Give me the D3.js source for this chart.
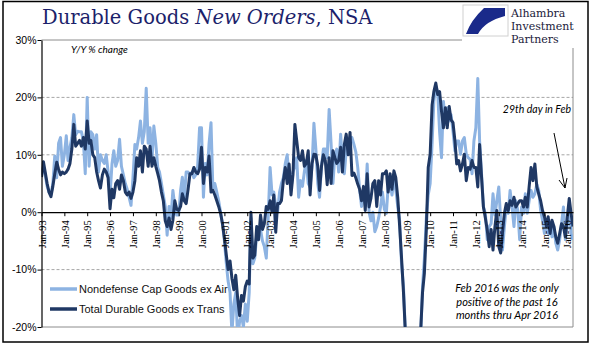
<!DOCTYPE html>
<html>
<head>
<meta charset="utf-8">
<script src="https://cdn.jsdelivr.net/npm/d3@7"></script>
<style>
  body { margin: 0; background: #fff; }
  svg { display: block; }
</style>
</head>
<body>
<script>
// Y/Y % change, monthly, Jan 1993 .. Apr 2016 (one row per year)
const nondefenseCapExAir = [
  6.5, 8, 6.5, 4.5, 3.5, 3, 5, 9.8, 6, 12, 13, 8,
  10, 13.3, 9, 11.3, 13, 17, 13.5, 14.1, 14, 14, 12.4, 6.7,
  20, 8, 14, 13.5, 11, 13.5, 7, 10, 9, 8.5, 10, 7,
  3, 8.4, 10.7, 8, 9, 12.7, 8, 6.5, 5, 4, 2.6, 1.2,
  6, 11.8, 11, 13, 15.9, 12, 14, 21.6, 12, 14.7, 9, 15,
  12, 7.8, 7, 5, 3, 1, -4, 1, -1, 3.8, 1, -0.5,
  -0.5, 3.8, 6.1, 2, 7, 7, 6.5, 7, 6, 6.5, 8, 14.7,
  14.7, 2.6, 8.5, 6.5, 12, 15.6, 4, 5, 3.5, 2, 0, -2,
  -5, -9, -12, -14, -21, -16, -14, -22, -19, -18, -20, -16,
  -19, -14, -1, -9, -8, -4, -4, -3, -5, -6, -8, -1,
  7.8, 3, 3.5, 1, 0, 3.5, 5, 6, 8.5, 10, 6, 4,
  7, 8, 9.5, 2.6, 5.5, 4.5, 7, 9, 5, 4.4, 8, 15.5,
  11, 5, 2.6, 8, 11, 11, 9.5, 17.9, 12, 5, 10, 11,
  7, 13.6, 9, 6.7, 10.7, 12.4, 13, 13, 11.8, 10.5, 7.8, 4,
  1, 3, 2, 8.4, 0, -1.5, 0, -3.4, -2.5, -1, 1, 3.5,
  0.5, -0.2, 4.5, 5.5, 3, 5.5, 4, 1, -1.5, -9, -13, -21,
  -23, -26, -28, -29, -29, -28, -27, -22, -13, -8, -1, 3,
  5, 12, 19.3, 22, 21, 14, 9.5, 19.3, 15.3, 18.2, 15.9, 17,
  14.1, 10.7, 12.4, 12.4, 10.1, 12.4, 13, 10.1, 9.5, 9.2, 6.7, 12.4,
  14.7, 23.3, 12.4, 6.7, 0.9, -0.2, -4.8, -2.5, -2, 3.2, -0.5, 2,
  4.4, -1.4, -6.6, -2.5, 0.9, -0.2, 3.8, 0.9, -2.5, 2, 0.3, -4.8,
  0.9, -0.2, 3.2, -0.2, 2, 3.8, 2.6, 3.2, 4.9, 3.8, 0.3, -1.4,
  -3.7, -2.5, -3.7, -2, -4.3, -2.5, -5.4, -6.6, -4.8, -2, 0.9, -4.8,
  -2.5, 0.9, -3.7, -4.8
];

const totalExTrans = [
  6.1, 8.8, 7, 5, 3.5, 2.7, 4.5, 6.7, 8.7, 7.5, 6.5, 7,
  6.7, 7, 7.5, 8.5, 11, 15.3, 11.5, 12, 12.5, 11.5, 13, 11,
  15.9, 12, 12.5, 10, 9.5, 7, 5.5, 4.2, 6.5, 7.5, 7, 6,
  0.6, 4, 2.5, 5, 5.5, 4, 6.5, 5.5, 3.5, 3, 3.5, 2.4,
  3.5, 5.5, 9.5, 8, 10.7, 7, 11.5, 11, 8, 11.5, 8, 9.5,
  8, 6.7, 5.5, 3.5, 2, -1.5, -2.5, -1, -3, -1.4, 2, 0.5,
  0.3, 1, 3.2, 2, 1.5, 4, 6.7, 6.7, 7.8, 7, 6.7, 7.5,
  11.3, 5, 7.8, 7, 9.8, 3.5, 3.8, 3, 2, 1, -0.2, -2,
  -4.5, -7.5, -10, -8.5, -11.5, -13.5, -11, -15, -18, -14.5, -15.5, -13,
  -12, -12.5, 0, -8, -7.5, -2.5, -4.8, -0.5, -3, -2, 1, 0.5,
  2, 0, 3, -3.5, 1.5, 1.5, 2, 5.5, 7.8, 5, 8.4, 3,
  6.5, 15.3, 12.5, 9.5, 9, 10.7, 8, 8.5, 10.7, 3, 8.5, 10.1,
  10, 8, 3.8, 8, 10, 9, 4.8, 9.5, 5, 10.7, 9.5, 8.5,
  9, 11.3, 7, 11.8, 13.6, 10, 13.9, 6.4, 6.8, 6, 4.9, 4,
  2, 4.5, 0.3, 6.7, 0.9, 2.5, 5, 5.5, 1, 5.5, 3, 6.7,
  6.7, 7.2, 3.5, 6.7, 4, 7.2, 6, 2.6, -2.5, -8, -14, -21,
  -22, -25, -27, -28, -28, -27, -26, -21, -14, -10.6, -3, 7.8,
  10.1, 18.7, 21, 22.5, 20.5, 21, 17.6, 14.7, 18.2, 14.7, 18.4, 16.1,
  15.6, 12.4, 8.4, 9, 7.2, 8.4, 10.1, 5.5, 7.8, 7.5, 9, 7.8,
  7.8, 4.4, 11.8, 6.1, 0.9, -1, -3.1, -6, -3, -6.6, -2.5, 0.3,
  -6, -7.1, -3.7, -0.2, 1.5, 0.3, 2, 1.2, 2.6, 0.9, 1.5, 2,
  2, 0.9, 2.6, 0.9, 4.4, 7.8, 5.5, 8.4, 4.4, 3.2, 2, 0.3,
  -0.8, -2.5, -0.8, -3.7, -1.4, -2.5, -4.3, -5.4, -3.7, -2, -2.5, -4.3,
  -0.8, 2.4, -0.2, -2.5
];

const seriesNames = ["Nondefense Cap Goods ex Air", "Total Durable Goods ex Trans"];
const seriesColors = ["#8db3e2", "#1f3864"];
const yTicks = [-20, -10, 0, 10, 20, 30];
const noteLines = ["Feb 2016 was the only", "positive of the past 16", "months thru Apr 2016"];
const logoLines = ["Alhambra", "Investment", "Partners"];

const width = 596, height = 358;
const plotLeft = 41.5, plotRight = 573, plotTop = 40, plotBottom = 327;

const months = d3.timeMonth.range(new Date(1993, 0, 1), new Date(2016, 4, 1));

const x = d3.scaleTime()
  .domain([months[0], months[months.length - 1]])
  .range([plotLeft, plotRight]);

const y = d3.scaleLinear()
  .domain([-20, 30])
  .range([plotBottom, plotTop]);

const svg = d3.select("body").append("svg")
  .attr("width", width)
  .attr("height", height);

// outer frame
svg.append("rect")
  .attr("x", 3).attr("y", 1.5)
  .attr("width", 585).attr("height", 340.5)
  .attr("fill", "none")
  .attr("stroke", "#000")
  .attr("stroke-width", 1.5);

// title
const title = svg.append("text")
  .attr("x", 42).attr("y", 24)
  .attr("font-family", "'DejaVu Serif', serif")
  .attr("font-size", 19.5)
  .attr("fill", "#1c1f6b");
title.append("tspan").text("Durable Goods ");
title.append("tspan").attr("font-style", "italic").text("New Orders");
title.append("tspan").text(", NSA");

// logo
const logo = svg.append("g");
logo.append("rect")
  .attr("x", 463).attr("y", 5)
  .attr("width", 45).attr("height", 31)
  .attr("fill", "#fff")
  .attr("stroke", "#d0d0d0");
logo.append("path")
  .attr("d", "M505,8 L484,8 Q471,20 466,34 L478,34 Q485,21 505,16 Z")
  .attr("fill", "#1a2a8a");
const logoText = logo.append("text")
  .attr("font-family", "'DejaVu Serif', serif")
  .attr("font-size", 11)
  .attr("fill", "#1a1a3a");
logoLines.forEach(function(t, i) {
  logoText.append("tspan")
    .attr("x", 511).attr("y", 17 + i * 13)
    .text(t);
});

// grid
[20, 10, -10].forEach(function(v) {
  svg.append("line")
    .attr("x1", plotLeft).attr("x2", plotRight)
    .attr("y1", y(v)).attr("y2", y(v))
    .attr("stroke", "#a6a6a6")
    .attr("stroke-dasharray", "3,2");
});
svg.append("line")
  .attr("x1", plotLeft).attr("x2", 462)
  .attr("y1", y(30)).attr("y2", y(30))
  .attr("stroke", "#8c8c8c");
svg.append("line")
  .attr("x1", plotLeft).attr("x2", plotRight)
  .attr("y1", y(-20)).attr("y2", y(-20))
  .attr("stroke", "#8c8c8c");
svg.append("line")
  .attr("x1", plotRight).attr("x2", plotRight)
  .attr("y1", 48).attr("y2", plotBottom)
  .attr("stroke", "#8c8c8c");

// series
svg.append("clipPath").attr("id", "plot")
  .append("rect")
  .attr("x", plotLeft).attr("y", plotTop)
  .attr("width", plotRight - plotLeft).attr("height", plotBottom - plotTop);

const line = d3.line()
  .x(function(d, i) { return x(months[i]); })
  .y(function(d) { return y(d); });

[nondefenseCapExAir, totalExTrans].forEach(function(s, k) {
  svg.append("path")
    .datum(s)
    .attr("clip-path", "url(#plot)")
    .attr("fill", "none")
    .attr("stroke", seriesColors[k])
    .attr("stroke-width", 3)
    .attr("stroke-linejoin", "round")
    .attr("d", line);
});

// axes
const xAxis = svg.append("g")
  .attr("transform", "translate(0," + y(0) + ")")
  .call(d3.axisBottom(x)
    .ticks(d3.timeYear.every(1))
    .tickFormat(d3.timeFormat("%b-%y"))
    .tickSize(4)
    .tickSizeOuter(0));
xAxis.select(".domain").attr("stroke", "#000").attr("stroke-width", 1.2);
xAxis.selectAll(".tick line").attr("stroke", "#000");
xAxis.selectAll("text")
  .attr("transform", "rotate(-90)")
  .attr("text-anchor", "end")
  .attr("x", -8).attr("y", 0)
  .attr("dy", "0.35em")
  .attr("font-family", "'Liberation Serif', serif")
  .attr("font-size", 10.5)
  .attr("fill", "#000");

const yAxis = svg.append("g")
  .attr("transform", "translate(" + plotLeft + ",0)")
  .call(d3.axisLeft(y)
    .tickValues(yTicks)
    .tickFormat(function(d) { return d + "%"; })
    .tickSize(4)
    .tickSizeOuter(0));
yAxis.select(".domain").attr("stroke", "#000").attr("stroke-width", 1.2);
yAxis.selectAll(".tick line").attr("stroke", "#000");
yAxis.selectAll("text")
  .attr("x", -5)
  .attr("font-family", "'Liberation Sans', Arial, sans-serif")
  .attr("font-size", 10.5)
  .attr("fill", "#000");

// labels
svg.append("text")
  .attr("x", 71).attr("y", 53)
  .attr("font-family", "Lato, sans-serif")
  .attr("font-style", "italic")
  .attr("font-size", 10)
  .text("Y/Y % change");

svg.append("text")
  .attr("x", 571).attr("y", 113)
  .attr("text-anchor", "end")
  .attr("font-family", "Lato, sans-serif")
  .attr("font-style", "italic")
  .attr("font-size", 10.5)
  .text("29th day in Feb");

// arrow to Feb 2016
svg.append("line")
  .attr("x1", 554).attr("y1", 133)
  .attr("x2", 565).attr("y2", 188)
  .attr("stroke", "#000");
svg.append("path")
  .attr("d", "M559,180 L565,188 L567,178")
  .attr("fill", "none")
  .attr("stroke", "#000");

const note = svg.append("text")
  .attr("text-anchor", "middle")
  .attr("font-family", "Lato, sans-serif")
  .attr("font-style", "italic")
  .attr("font-size", 11);
noteLines.forEach(function(t, i) {
  note.append("tspan")
    .attr("x", 507).attr("y", 292 + i * 13.5)
    .text(t);
});

// legend
seriesNames.forEach(function(name, i) {
  const ly = 289 + i * 20;
  svg.append("line")
    .attr("x1", 50).attr("x2", 77)
    .attr("y1", ly).attr("y2", ly)
    .attr("stroke", seriesColors[i])
    .attr("stroke-width", 3.5);
  svg.append("text")
    .attr("x", 79).attr("y", ly + 4)
    .attr("font-family", "'Liberation Sans', Arial, sans-serif")
    .attr("font-size", 11)
    .attr("fill", "#111")
    .text(name);
});
</script>
</body>
</html>
